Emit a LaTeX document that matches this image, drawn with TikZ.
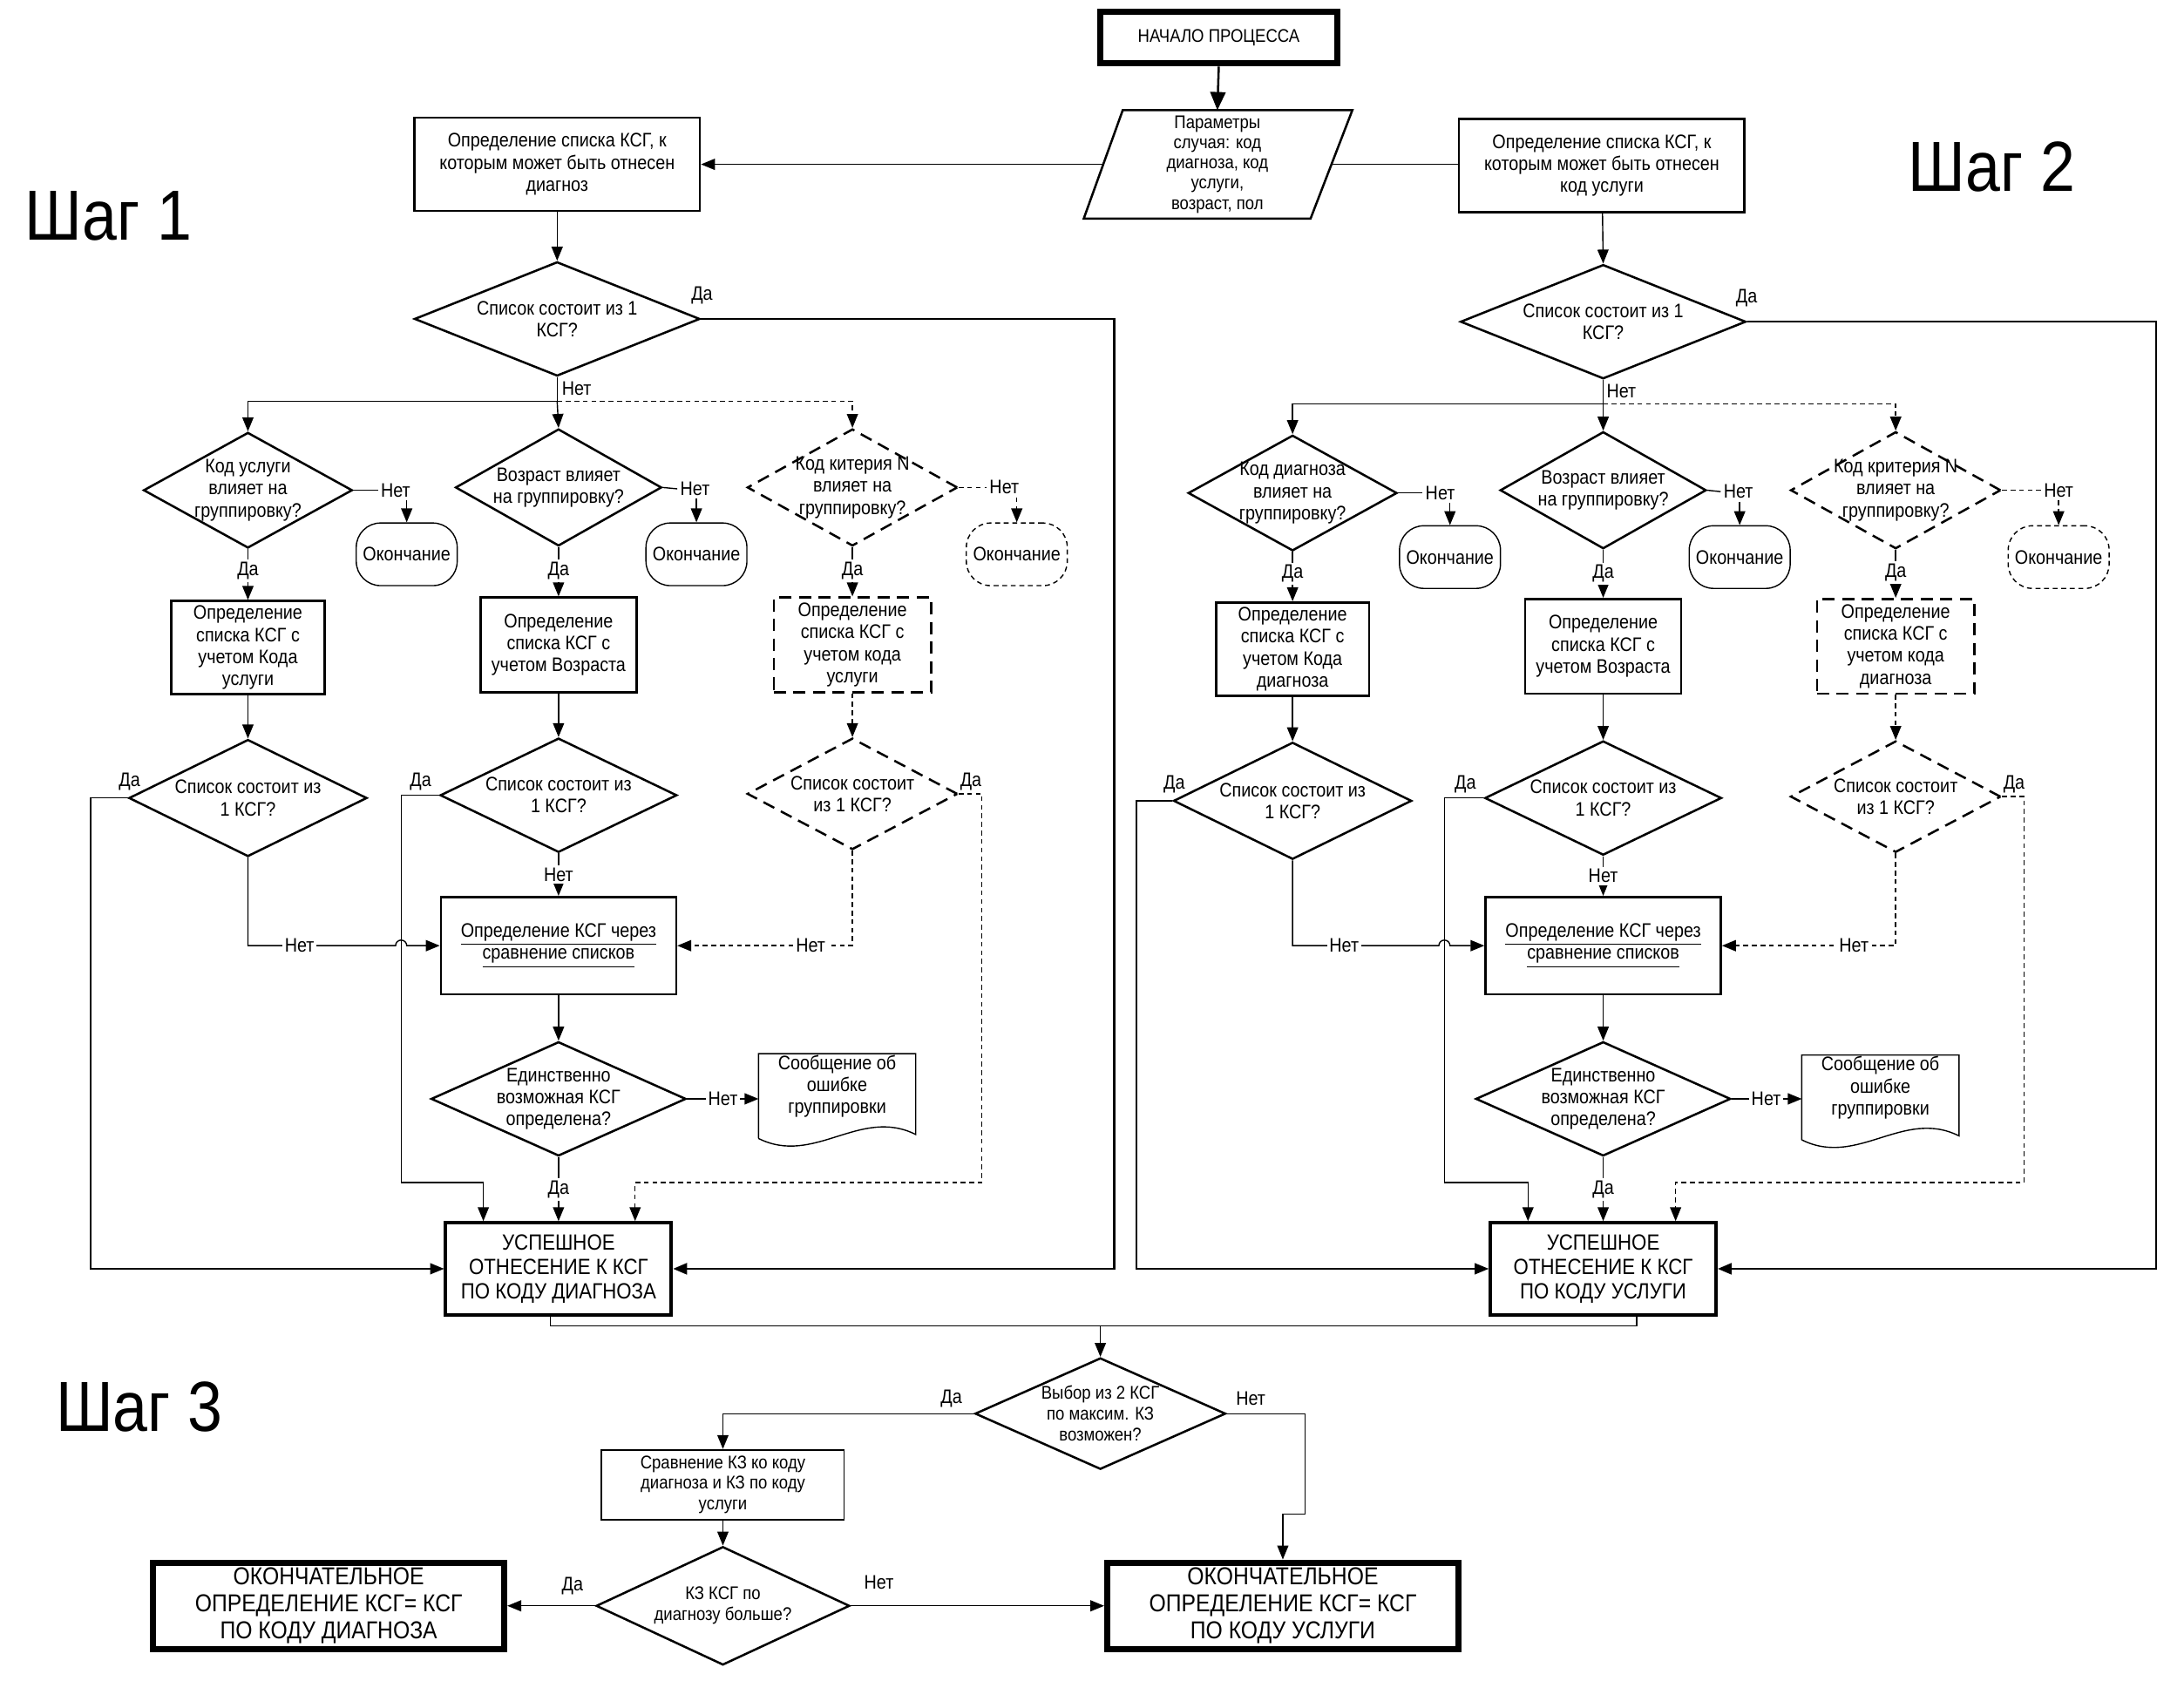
\documentclass[tikz,border=0pt]{standalone}
\usepackage{fontspec}
\setmainfont{Liberation Sans}[FakeStretch=0.88]
\usetikzlibrary{arrows.meta,shapes.geometric,positioning}

\tikzset{
  txt/.style={font=\fontsize{8}{9}\selectfont, align=center, inner sep=1pt},
  arr/.style={-{Triangle[length=2mm,width=1.6mm]}},
  dline/.style={dash pattern=on 2pt off 1.5pt},
  dashbox/.style={dash pattern=on 5pt off 3pt},
  proc/.style args={#1/#2}{txt, draw, line width=0.9pt, minimum width=#1, minimum height=#2, inner sep=0pt},
  ask/.style args={#1/#2}{diamond, draw, line width=0.9pt, minimum width=#1, minimum height=#2, inner sep=0pt},
  endterm/.style={txt, draw, line width=0.5pt, rounded corners=0.35cm, minimum width=1.45cm, minimum height=0.9cm},
  paper/.style={minimum width=2.24cm, minimum height=1.2cm, inner sep=0pt},
  result/.style={txt, font=\fontsize{9}{10}\selectfont, draw, line width=1.4pt, minimum width=3.24cm, minimum height=1.32cm},
  final/.style={txt, font=\fontsize{10}{11}\selectfont, draw, line width=2.6pt, minimum width=5.04cm, minimum height=1.24cm},
  yesno/.style={txt, fill=white},
  steptitle/.style={font=\fontsize{29}{32}\selectfont}
}

\begin{document}
\begin{tikzpicture}[x=0.02cm, y=-0.02cm, line width=0.5pt]
\useasboundingbox (0,0) rectangle (1568,1226);

% titles
\node[steptitle] (st1) at (78,155) {Шаг 1};
\node[steptitle] (st2) at (1430,120) {Шаг 2};
\node[steptitle] (st3) at (100,1010) {Шаг 3};

% start and input
\node[txt, font=\fontsize{7.5}{9}\selectfont, draw, line width=2.6pt, minimum width=3.4cm, minimum height=0.74cm] (start) at (875,27) {НАЧАЛО ПРОЦЕССА};
\node[txt, font=\fontsize{7.5}{8.3}\selectfont, minimum width=3.26cm, minimum height=1.54cm, inner sep=0pt] (param) at (874,118) {Параметры\\случая: код\\диагноза, код\\услуги,\\возраст, пол};
\draw[line width=0.9pt] ([xshift=0.28cm]param.north west) -- ([xshift=0.3cm]param.north east)
  -- ([xshift=-0.3cm]param.south east) -- ([xshift=-0.28cm]param.south west) -- cycle;
\draw[-{Triangle[length=2.6mm,width=2.2mm]}, line width=0.9pt] (start.south) -- (param.north);

% ---------- step 1 ----------
\node[proc=4.1cm/1.34cm] (lbox) at (400,118) {Определение списка КСГ, к\\которым может быть отнесен\\диагноз};
\node[ask=4.1cm/1.64cm, label={[txt]center:{Список состоит из 1\\КСГ?}}] (lq) at (400,229) {};
\node[ask=3.0cm/1.66cm, label={[txt]center:{Код услуги\\влияет на\\группировку?}}] (la1) at (178,352) {};
\node[ask=2.96cm/1.68cm, label={[txt]center:{Возраст влияет\\на группировку?}}] (la2) at (401,350) {};
\node[ask=3.02cm/1.68cm, dashbox, label={[txt]center:{Код китерия N\\влияет на\\группировку?}}] (la3) at (612,350) {};
\node[endterm] (le1) at (292,398) {Окончание};
\node[endterm] (le2) at (500,398) {Окончание};
\node[endterm, dline] (le3) at (730,398) {Окончание};
\node[proc=2.2cm/1.34cm] (lb1) at (178,465) {Определение\\списка КСГ с\\учетом Кода\\услуги};
\node[proc=2.24cm/1.36cm] (lb2) at (401,463) {Определение\\списка КСГ с\\учетом Возраста};
\node[proc=2.26cm/1.36cm, dashbox] (lb3) at (612,463) {Определение\\списка КСГ с\\учетом кода\\услуги};
\node[ask=3.42cm/1.68cm, label={[txt]center:{Список состоит из\\1 КСГ?}}] (lc1) at (178,573) {};
\node[ask=3.4cm/1.64cm, label={[txt]center:{Список состоит из\\1 КСГ?}}] (lc2) at (401,571) {};
\node[ask=3.02cm/1.6cm, dashbox, label={[txt]center:{Список состоит\\из 1 КСГ?}}] (lc3) at (612,570) {};
\node[proc=3.38cm/1.4cm] (lk) at (401,679) {\underline{Определение КСГ через}\\\underline{сравнение списков}};
\node[ask=3.66cm/1.64cm, label={[txt]center:{Единственно\\возможная КСГ\\определена?}}] (lq2) at (401,789) {};
\node[paper, label={[txt, yshift=0.14cm]center:{Сообщение об\\ошибке\\группировки}}] (ldoc) at (601,787) {};
\draw (ldoc.south west) -- (ldoc.north west) -- (ldoc.north east) -- ++(0,58)
  .. controls +(-40,-20) and +(40,20) .. (ldoc.south west);
\node[result] (lres) at (401,911) {УСПЕШНОЕ\\ОТНЕСЕНИЕ К КСГ\\ПО КОДУ ДИАГНОЗА};

\node[txt] (lqno) at (414,279) {Нет};
\node[txt] (la1no) at (284,352) {Нет};
\node[txt] (la2no) at (499,351) {Нет};
\node[txt] (la3no) at (721,350) {Нет};

\coordinate (lj) at (400,288);
\draw[arr] (param.west) -- (lbox.east);
\draw[arr] (lbox) -- (lq.north);
\draw[arr, line width=0.9pt] (lq.east) -| (800,911) -- (lres.east);
\draw (lq.south) -- (lj);
\draw[arr] (lj) -| (la1.north);
\draw[arr] (lj) -- (la2.north);
\draw[arr, dline] (lj) -| (la3.north);
\draw (la1.east) -- (la1no.west);
\draw (la2.east) -- (la2no.west);
\draw[dline] (la3.east) -- (la3no.west);
\draw[arr] (la1no.south -| le1.north) -- (le1.north);
\draw[arr] (la2no.south -| le2.north) -- (le2.north);
\draw[arr, dline] (la3no.south -| le3.north) -- (le3.north);
\draw[arr] (la1.south) -- (lb1.north);
\draw[arr] (la2.south) -- (lb2.north);
\draw[arr] (la3.south) -- (lb3.north);
\draw[arr] (lb1.south) -- (lc1.north);
\draw[arr] (lb2.south) -- (lc2.north);
\draw[arr, dline] (lb3.south) -- (lc3.north);
\draw[arr] (lc1.west) -| (65,911) -- (lres.west);
\draw[arr] (lc2.west) -| (288,849) -| ([xshift=-1.08cm]lres.north);
\draw[arr, dline] (lc3.east) -| (705,849) -| ([xshift=1.1cm]lres.north);
\draw[arr] (lc1.south) |- (284,679) arc[start angle=180, end angle=0, radius=0.08cm] -- (lk.west);
\draw[arr] (lc2.south) -- (lk.north);
\draw[arr, dline] (lc3.south) |- (lk.east);
\draw[arr] (lk.south) -- (lq2.north);
\draw[arr] (lq2.east) -- (ldoc.west |- lq2.east);
\draw[arr] (lq2.south) -- (lres.north);

\node[txt] (lqyes) at (504,212) {Да};
\node[yesno] (la1yes) at (178,410) {Да};
\node[yesno] (la2yes) at (401,410) {Да};
\node[yesno] (la3yes) at (612,410) {Да};
\node[txt] (lc1yes) at (93,561) {Да};
\node[txt] (lc2yes) at (302,561) {Да};
\node[txt] (lc3yes) at (697,561) {Да};
\node[yesno] (lc1no) at (215,679) {Нет};
\node[yesno] (lc2no) at (401,628) {Нет};
\node[yesno] (lc3no) at (582,679) {Нет};
\node[yesno] (lq2yes) at (401,854) {Да};
\node[yesno] (lq2no) at (519,789) {Нет};

% ---------- step 2 ----------
\node[proc=4.1cm/1.34cm] (rbox) at (1150,119) {Определение списка КСГ, к\\которым может быть отнесен\\код услуги};
\node[ask=4.1cm/1.64cm, label={[txt]center:{Список состоит из 1\\КСГ?}}] (rq) at (1151,231) {};
\node[ask=3.0cm/1.66cm, label={[txt]center:{Код диагноза\\влияет на\\группировку?}}] (ra1) at (928,354) {};
\node[ask=2.96cm/1.68cm, label={[txt]center:{Возраст влияет\\на группировку?}}] (ra2) at (1151,352) {};
\node[ask=3.02cm/1.68cm, dashbox, label={[txt]center:{Код критерия N\\влияет на\\группировку?}}] (ra3) at (1361,352) {};
\node[endterm] (re1) at (1041,400) {Окончание};
\node[endterm] (re2) at (1249,400) {Окончание};
\node[endterm, dline] (re3) at (1478,400) {Окончание};
\node[proc=2.2cm/1.34cm] (rb1) at (928,466) {Определение\\списка КСГ с\\учетом Кода\\диагноза};
\node[proc=2.24cm/1.36cm] (rb2) at (1151,464) {Определение\\списка КСГ с\\учетом Возраста};
\node[proc=2.26cm/1.36cm, dashbox] (rb3) at (1361,464) {Определение\\списка КСГ с\\учетом кода\\диагноза};
\node[ask=3.42cm/1.68cm, label={[txt]center:{Список состоит из\\1 КСГ?}}] (rc1) at (928,575) {};
\node[ask=3.4cm/1.64cm, label={[txt]center:{Список состоит из\\1 КСГ?}}] (rc2) at (1151,573) {};
\node[ask=3.02cm/1.6cm, dashbox, label={[txt]center:{Список состоит\\из 1 КСГ?}}] (rc3) at (1361,572) {};
\node[proc=3.38cm/1.4cm] (rk) at (1151,679) {\underline{Определение КСГ через}\\\underline{сравнение списков}};
\node[ask=3.66cm/1.64cm, label={[txt]center:{Единственно\\возможная КСГ\\определена?}}] (rq2) at (1151,789) {};
\node[paper, label={[txt, yshift=0.14cm]center:{Сообщение об\\ошибке\\группировки}}] (rdoc) at (1350,788) {};
\draw (rdoc.south west) -- (rdoc.north west) -- (rdoc.north east) -- ++(0,58)
  .. controls +(-40,-20) and +(40,20) .. (rdoc.south west);
\node[result] (rres) at (1151,911) {УСПЕШНОЕ\\ОТНЕСЕНИЕ К КСГ\\ПО КОДУ УСЛУГИ};

\node[txt] (rqno) at (1164,281) {Нет};
\node[txt] (ra1no) at (1034,354) {Нет};
\node[txt] (ra2no) at (1248,353) {Нет};
\node[txt] (ra3no) at (1478,352) {Нет};

\coordinate (rj) at (1151,290);
\draw (param.east) -- (param.east -| rbox.west);
\draw[arr] (rbox) -- (rq.north);
\draw[arr, line width=0.9pt] (rq.east) -| (1548,911) -- (rres.east);
\draw (rq.south) -- (rj);
\draw[arr] (rj) -| (ra1.north);
\draw[arr] (rj) -- (ra2.north);
\draw[arr, dline] (rj) -| (ra3.north);
\draw (ra1.east) -- (ra1no.west);
\draw (ra2.east) -- (ra2no.west);
\draw[dline] (ra3.east) -- (ra3no.west);
\draw[arr] (ra1no.south -| re1.north) -- (re1.north);
\draw[arr] (ra2no.south -| re2.north) -- (re2.north);
\draw[arr, dline] (ra3no.south -| re3.north) -- (re3.north);
\draw[arr] (ra1.south) -- (rb1.north);
\draw[arr] (ra2.south) -- (rb2.north);
\draw[arr] (ra3.south) -- (rb3.north);
\draw[arr] (rb1.south) -- (rc1.north);
\draw[arr] (rb2.south) -- (rc2.north);
\draw[arr, dline] (rb3.south) -- (rc3.north);
\draw[arr] (rc1.west) -| (816,911) -- (rres.west);
\draw[arr] (rc2.west) -| (1037,849) -| ([xshift=-1.08cm]rres.north);
\draw[arr, dline] (rc3.east) -| (1453,849) -| ([xshift=1.04cm]rres.north);
\draw[arr] (rc1.south) |- (1033,679) arc[start angle=180, end angle=0, radius=0.08cm] -- (rk.west);
\draw[arr] (rc2.south) -- (rk.north);
\draw[arr, dline] (rc3.south) |- (rk.east);
\draw[arr] (rk.south) -- (rq2.north);
\draw[arr] (rq2.east) -- (rdoc.west |- rq2.east);
\draw[arr] (rq2.south) -- (rres.north);

\node[txt] (rqyes) at (1254,214) {Да};
\node[yesno] (ra1yes) at (928,412) {Да};
\node[yesno] (ra2yes) at (1151,412) {Да};
\node[yesno] (ra3yes) at (1361,411) {Да};
\node[txt] (rc1yes) at (843,563) {Да};
\node[txt] (rc2yes) at (1052,563) {Да};
\node[txt] (rc3yes) at (1446,563) {Да};
\node[yesno] (rc1no) at (965,679) {Нет};
\node[yesno] (rc2no) at (1151,629) {Нет};
\node[yesno] (rc3no) at (1331,679) {Нет};
\node[yesno] (rq2yes) at (1151,854) {Да};
\node[yesno] (rq2no) at (1268,789) {Нет};

% ---------- step 3 ----------
\coordinate (mrg) at (790,952);
\node[ask=3.6cm/1.6cm, label={[txt, font=\fontsize{7.5}{8.5}\selectfont]center:{Выбор из 2 КСГ\\по максим. КЗ\\возможен?}}] (sel) at (790,1015) {};
\node[proc=3.48cm/1.0cm, font=\fontsize{7.5}{8.5}\selectfont, line width=0.7pt] (cmp) at (519,1066) {Сравнение КЗ ко коду\\диагноза и КЗ по коду\\услуги};
\node[ask=3.64cm/1.7cm, label={[txt, font=\fontsize{7.5}{8.5}\selectfont]center:{КЗ КСГ по\\диагнозу больше?}}] (more) at (519,1153) {};
\node[final] (fin1) at (236,1153) {ОКОНЧАТЕЛЬНОЕ\\ОПРЕДЕЛЕНИЕ КСГ= КСГ\\ПО КОДУ ДИАГНОЗА};
\node[final] (fin2) at (921,1153) {ОКОНЧАТЕЛЬНОЕ\\ОПРЕДЕЛЕНИЕ КСГ= КСГ\\ПО КОДУ УСЛУГИ};

\draw ([xshift=-0.12cm]lres.south) |- (mrg) -| ([xshift=0.48cm]rres.south);
\draw[arr] (mrg) -- (sel.north);
\draw[arr] (sel.west) -| (cmp.north);
\draw[arr] (sel.east) -| (937,1087) -| (fin2.north);
\draw[arr] (cmp.south) -- (more.north);
\draw[arr] (more.west) -- (fin1.east);
\draw[arr] (more.east) -- (fin2.west);

\node[txt] (selyes) at (683,1004) {Да};
\node[txt] (selno) at (898,1004) {Нет};
\node[txt] (moreyes) at (411,1139) {Да};
\node[txt] (moreno) at (631,1136) {Нет};
\end{tikzpicture}
\end{document}
